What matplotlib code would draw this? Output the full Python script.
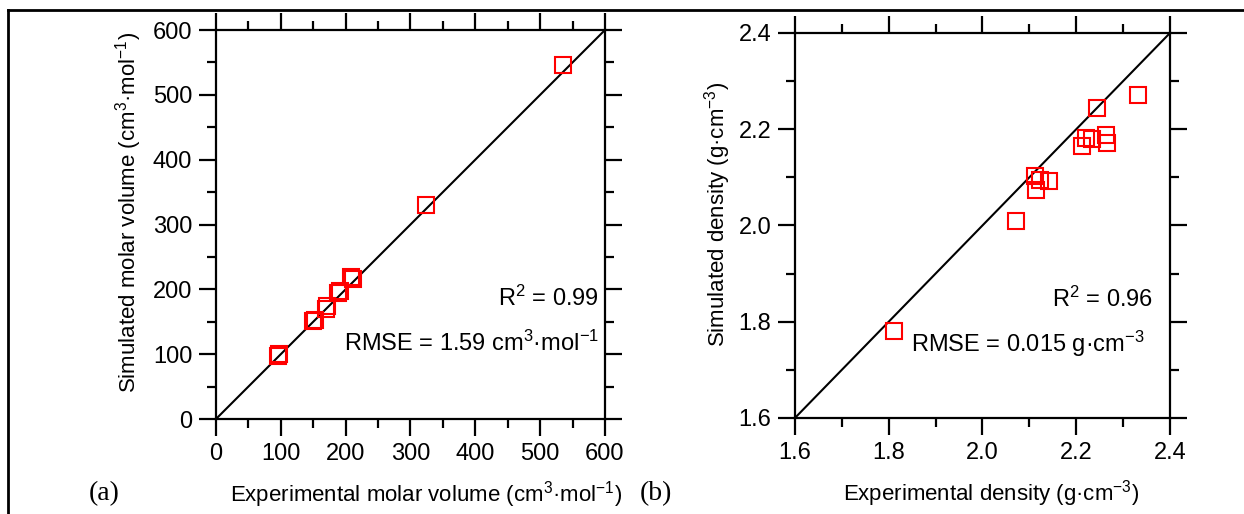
import numpy as np
import matplotlib.pyplot as plt
from matplotlib.lines import Line2D

plt.rcParams['font.family'] = ['Liberation Sans', 'DejaVu Sans']
plt.rcParams['mathtext.default'] = 'regular'

# (a) molar volume, cm3/mol
vol_exp = [95, 98, 150, 152, 170, 172, 189, 191, 208, 211, 324, 535]
vol_sim = [97, 101, 151, 152, 170, 175, 194, 197, 219, 216, 330, 546]

# (b) density, g/cm3
den_exp = [1.811, 2.071, 2.112, 2.114, 2.123, 2.142, 2.212, 2.221, 2.234,
           2.244, 2.263, 2.266, 2.332]
den_sim = [1.781, 2.009, 2.103, 2.074, 2.095, 2.092, 2.165, 2.182, 2.180,
           2.244, 2.188, 2.171, 2.271]

fig = plt.figure(figsize=(12.44, 5.14), dpi=100)
ax1 = fig.add_axes([0.1736, 0.1848, 0.3127, 0.7568])
ax2 = fig.add_axes([0.639, 0.1868, 0.3015, 0.749])

def estilo(ax):
    for s in ax.spines.values():
        s.set_linewidth(1.6)
    ax.tick_params(which='both', direction='out', top=True, right=True,
                   width=1.6, labelsize=17)
    ax.tick_params(which='major', length=12, pad=5)
    ax.tick_params(which='minor', length=6.5)

# panel (a)
ax1.plot([0, 600], [0, 600], color='black', lw=1.5)
ax1.plot(vol_exp, vol_sim, 's', ms=11, mfc='none', mec='red', mew=1.5)
ax1.set_xlim(0, 600)
ax1.set_ylim(0, 600)
ax1.set_xticks(np.arange(0, 601, 100))
ax1.set_yticks(np.arange(0, 601, 100))
ax1.set_xticks(np.arange(0, 601, 50), minor=True)
ax1.set_yticks(np.arange(0, 601, 50), minor=True)
estilo(ax1)
ax1.set_xlabel('Experimental molar volume (cm$^3$·mol$^{-1}$)', fontsize=16)
ax1.set_ylabel('Simulated molar volume (cm$^3$·mol$^{-1}$)', fontsize=16)
ax1.xaxis.set_label_coords(0.54, -0.155)
ax1.yaxis.set_label_coords(-0.184, 0.53)
ax1.text(0.985, 0.311, 'R$^2$ = 0.99', transform=ax1.transAxes, ha='right', va='center', fontsize=17)
ax1.text(0.985, 0.195, 'RMSE = 1.59 cm$^3$·mol$^{-1}$', transform=ax1.transAxes, ha='right', va='center', fontsize=17)

# panel (b)
ax2.plot([1.6, 2.4], [1.6, 2.4], color='black', lw=1.5)
ax2.plot(den_exp, den_sim, 's', ms=11, mfc='none', mec='red', mew=1.5)
ax2.set_xlim(1.6, 2.4)
ax2.set_ylim(1.6, 2.4)
ax2.set_xticks(np.arange(1.6, 2.41, 0.2))
ax2.set_yticks(np.arange(1.6, 2.41, 0.2))
ax2.set_xticks(np.arange(1.6, 2.41, 0.1), minor=True)
ax2.set_yticks(np.arange(1.6, 2.41, 0.1), minor=True)
estilo(ax2)
ax2.set_xlabel('Experimental density (g·cm$^{-3}$)', fontsize=16)
ax2.set_ylabel('Simulated density (g·cm$^{-3}$)', fontsize=16)
ax2.xaxis.set_label_coords(0.523, -0.155)
ax2.yaxis.set_label_coords(-0.165, 0.53)
ax2.text(0.955, 0.309, 'R$^2$ = 0.96', transform=ax2.transAxes, ha='right', va='center', fontsize=17)
ax2.text(0.933, 0.192, 'RMSE = 0.015 g·cm$^{-3}$', transform=ax2.transAxes, ha='right', va='center', fontsize=17)

# panel letters
fig.text(104 / 1244, 1 - 494 / 514, '(a)', family='Liberation Serif', fontsize=20, ha='center', va='center')
fig.text(656 / 1244, 1 - 494 / 514, '(b)', family='Liberation Serif', fontsize=20, ha='center', va='center')

# table frame
fig.add_artist(Line2D([8 / 1244, 1], [1 - 10 / 514] * 2, color='black', lw=2, transform=fig.transFigure))
fig.add_artist(Line2D([8 / 1244] * 2, [0, 1 - 10 / 514], color='black', lw=2, transform=fig.transFigure))

fig.savefig('out.png', dpi=100)
